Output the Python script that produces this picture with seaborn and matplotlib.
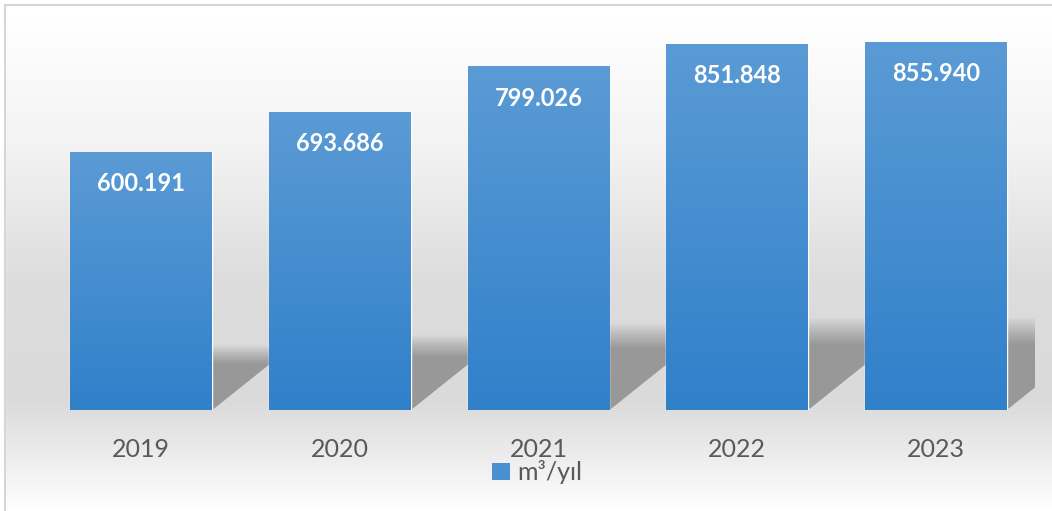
import numpy as np
import pandas as pd
import matplotlib
matplotlib.use("Agg")
import matplotlib.pyplot as plt
from matplotlib.patches import Polygon, Patch
from matplotlib.colors import LinearSegmentedColormap
import seaborn as sns

years = ["2019", "2020", "2021", "2022", "2023"]
values = [600191, 693686, 799026, 851848, 855940]
value_labels = ["600.191", "693.686", "799.026", "851.848", "855.940"]
series_name = "m³/yıl"

df = pd.DataFrame({"year": years, "value": values})

sns.set_theme(style="white")
plt.rcParams["font.family"] = ["Lato", "DejaVu Sans"]

W, H = 1052, 511
fig = plt.figure(figsize=(W / 100, H / 100), dpi=100)

# background gradient
bg = fig.add_axes([0, 0, 1, 1], zorder=-10)
ys = np.array([0, 20, 150, 280, 400, 430, 511])
gs = np.array([1.0, 1.0, 0.95, 0.865, 0.855, 0.895, 1.0])
yy = np.arange(H)
g = np.interp(yy, ys, gs)
img = np.repeat(g[:, None], 4, axis=1)
img = np.stack([img, img, img], axis=2)
bg.imshow(img, extent=[0, W, H, 0], aspect="auto", interpolation="bilinear")
bg.fill_between([0, W], [0, 0], [5, 5], color="white")
bg.fill_between([0, 5], [0, 0], [H, H], color="white")
bg.plot([5, 5], [5, H], color="#d6d6d6", lw=1.5)
bg.plot([5, W], [5, 5], color="#d6d6d6", lw=1.5)
bg.set_xlim(0, W)
bg.set_ylim(H, 0)
bg.axis("off")

ax_l, ax_r, ax_b, ax_t = 42, 1035, 410, 23
ax = fig.add_axes([ax_l / W, 1 - ax_b / H, (ax_r - ax_l) / W, (ax_b - ax_t) / H])
ax.set_facecolor("none")

sns.barplot(data=df, x="year", y="value", ax=ax, color="#4a8fd2", width=0.715,
            saturation=1, zorder=3)
ax.set_xlim(-0.5, 4.5)
ax.set_ylim(0, 900000)

pxx = (ax_r - ax_l) / 5.0
pxy = (ax_b - ax_t) / 900000

cmap = LinearSegmentedColormap.from_list("bar", ["#3080ca", "#5b9bd5"])
for p in ax.patches:
    x0, w, h = p.get_x(), p.get_width(), p.get_height()
    # soft shadow parallelogram
    Hs = 0.25 * h
    for k in range(12):
        f = 1 - 0.025 * k
        hh = Hs * f
        dx = hh * pxy / 0.8 / pxx
        poly = Polygon([(x0, 0), (x0 + w, 0), (x0 + w + dx, hh), (x0 + dx, hh)],
                       closed=True, facecolor="black", alpha=0.026, lw=0, zorder=1)
        ax.add_patch(poly)
    grad = np.linspace(1, 0, 256)[:, None]
    im = ax.imshow(grad, extent=[x0, x0 + w, 0, h], aspect="auto", cmap=cmap,
                   origin="upper", zorder=3.5, interpolation="bilinear")
    im.set_clip_path(p)

ax.set_xlim(-0.5, 4.5)
ax.set_ylim(0, 900000)

for i, (v, lab) in enumerate(zip(values, value_labels)):
    ax.text(i, v - 32 / pxy, lab, ha="center", va="center", color="white",
            fontsize=17, fontweight="bold", zorder=5)

ax.set_xlabel("")
ax.set_ylabel("")
ax.set_yticks([])
ax.tick_params(axis="x", length=0, pad=20, labelsize=18, labelcolor="#595959")
for s in ax.spines.values():
    s.set_visible(False)

handle = Patch(facecolor="#4a8fd2", edgecolor="none")
fig.legend([handle], [series_name], loc="center", bbox_to_anchor=(537 / W, 1 - 472 / H),
           frameon=False, fontsize=18, handlelength=0.7, handleheight=0.7,
           handletextpad=0.3, labelcolor="#595959")

fig.savefig("out.png", dpi=100)
